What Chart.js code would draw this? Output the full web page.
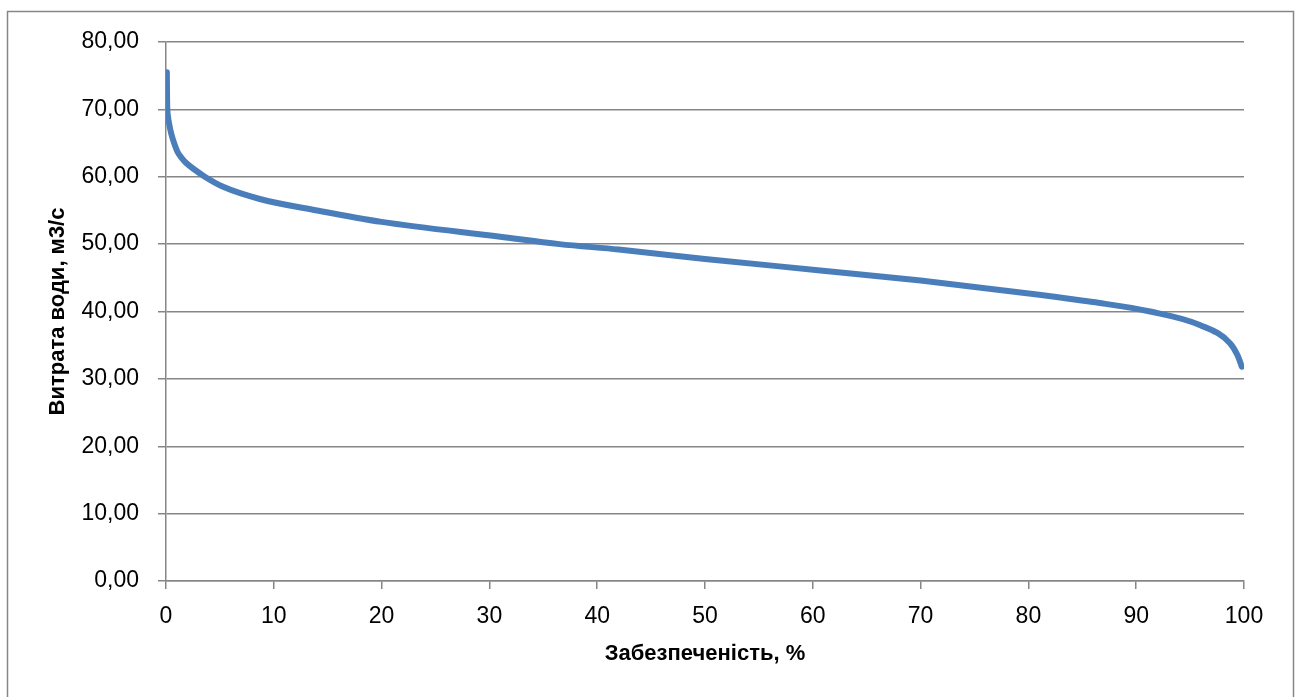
<!DOCTYPE html>
<html>
<head>
<meta charset="utf-8">
<script src="https://cdn.jsdelivr.net/npm/chart.js@4/dist/chart.umd.min.js"></script>
<style>
  html, body { margin: 0; padding: 0; background: #ffffff; }
  #wrap { width: 1298px; height: 697px; position: relative; }
</style>
</head>
<body>
<div id="wrap"><canvas id="c" width="1298" height="697"></canvas></div>
<script>
// Flow duration curve: exceedance probability (%) vs discharge (m3/s)
const probability = [0.08, 0.1, 0.18, 0.3, 0.5, 0.8, 1.1, 1.5, 1.9, 2.7, 3.6, 5.3, 8.7, 14, 20, 31, 36.5, 42, 50, 60.7, 70, 81, 86, 91.3, 95.9, 98.7, 99.4, 99.8];
const discharge   = [75.5, 71.5, 69.0, 67.8, 66.3, 64.8, 63.6, 62.7, 62.0, 61.0, 60.0, 58.5, 56.7, 55.0, 53.3, 51.1, 50.0, 49.2, 47.8, 46.1, 44.6, 42.5, 41.4, 40.0, 38.0, 35.3, 33.5, 31.8];
const xTicks = [0, 10, 20, 30, 40, 50, 60, 70, 80, 90, 100];
const yTicks = [0, 10, 20, 30, 40, 50, 60, 70, 80];
const xTitle = 'Забезпеченість, %';
const yTitle = 'Витрата води, м3/с';

const points = probability.map((p, i) => ({ x: p, y: discharge[i] }));

const FONT = "'Liberation Sans', Arial, sans-serif";
const GRID = '#868686';

const frame = {
  id: 'frame',
  beforeDraw(chart) {
    const ctx = chart.ctx;
    ctx.save();
    ctx.fillStyle = '#ffffff';
    ctx.fillRect(0, 0, chart.width, chart.height);
    ctx.strokeStyle = GRID;
    ctx.lineWidth = 1.5;
    ctx.strokeRect(7.5, 11.5, 1286, 720);
    ctx.restore();
  }
};

new Chart(document.getElementById('c'), {
  type: 'scatter',
  data: {
    datasets: [{
      data: points,
      showLine: true,
      borderColor: '#4A7EBB',
      borderWidth: 6,
      pointRadius: 0,
      cubicInterpolationMode: 'monotone',
      borderCapStyle: 'round',
      borderJoinStyle: 'round'
    }]
  },
  options: {
    responsive: false,
    animation: false,
    layout: { padding: { left: 0, top: 42, right: 54, bottom: 0 } },
    plugins: { legend: { display: false }, tooltip: { enabled: false } },
    scales: {
      x: {
        type: 'linear',
        min: 0, max: 100,
        afterBuildTicks(scale) { scale.ticks = xTicks.map(v => ({ value: v })); },
        afterFit(scale) { scale.height = 116; },
        border: { display: true, color: GRID, width: 1.5 },
        grid: { display: true, drawOnChartArea: false, drawTicks: true, tickLength: 8, color: GRID, lineWidth: 1.5 },
        ticks: { color: '#000000', font: { family: FONT, size: 23 }, padding: 14, maxRotation: 0 },
        title: { display: true, text: xTitle, color: '#000000', font: { family: FONT, size: 22, weight: 'bold' }, padding: { top: 0, bottom: 30 } }
      },
      y: {
        type: 'linear',
        min: 0, max: 80,
        afterBuildTicks(scale) { scale.ticks = yTicks.map(v => ({ value: v })); },
        afterFit(scale) { scale.width = 166; },
        border: { display: true, color: GRID, width: 1.5 },
        grid: { display: true, drawTicks: true, tickLength: 8, color: GRID, lineWidth: 1.5 },
        ticks: {
          color: '#000000', font: { family: FONT, size: 23 }, padding: 19,
          callback: v => v.toFixed(2).replace('.', ',')
        },
        title: { display: true, text: yTitle, color: '#000000', font: { family: FONT, size: 22, weight: 'bold' }, padding: { top: 45, bottom: 0 } }
      }
    }
  },
  plugins: [frame]
});
</script>
</body>
</html>
